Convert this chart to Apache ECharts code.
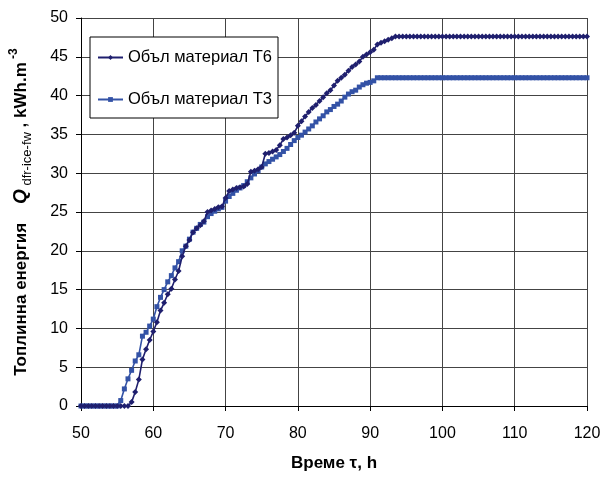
<!DOCTYPE html>
<html><head><meta charset="utf-8">
<script src="https://cdn.jsdelivr.net/npm/echarts@6/dist/echarts.min.js"></script>
<style>html,body{margin:0;padding:0;background:#fff}#c{width:613px;height:477px}</style>
</head><body><div id="c"></div>
<script>
const hours = [
50,50.5,51,51.5,52,52.5,53,53.5,54,54.5,55,55.5,56,56.5,57,57.5,58,58.5,59,59.5,
60,60.5,61,61.5,62,62.5,63,63.5,64,64.5,65,65.5,66,66.5,67,67.5,68,68.5,69,69.5,
70,70.5,71,71.5,72,72.5,73,73.5,74,74.5,75,75.5,76,76.5,77,77.5,78,78.5,79,79.5,
80,80.5,81,81.5,82,82.5,83,83.5,84,84.5,85,85.5,86,86.5,87,87.5,88,88.5,89,89.5,
90,90.5,91,91.5,92,92.5,93,93.5,94,94.5,95,95.5,96,96.5,97,97.5,98,98.5,99,99.5,
100,100.5,101,101.5,102,102.5,103,103.5,104,104.5,105,105.5,106,106.5,107,107.5,108,108.5,109,109.5,
110,110.5,111,111.5,112,112.5,113,113.5,114,114.5,115,115.5,116,116.5,117,117.5,118,118.5,119,119.5,
120];
const seriesNames = ['Объл материал Т6', 'Объл материал Т3'];
const energyT6 = [
0,0,0,0,0,0,0,0,0,0,0,0,0,0,
0.5,1.8,3.4,6.0,7.3,8.5,9.6,10.8,12.3,13.3,14.4,15.1,16.3,17.4,19.3,20.6,21.4,22.4,22.9,23.3,
23.8,25.0,25.2,25.4,25.6,25.7,26.8,27.7,27.9,28.1,28.2,28.3,28.6,30.2,30.3,30.5,30.8,32.5,32.6,32.8,
33.0,33.6,34.4,34.6,34.9,35.2,36.1,36.7,37.3,37.9,38.4,38.8,39.3,39.8,40.3,40.7,41.3,41.9,42.3,42.7,
43.2,43.7,44.0,44.4,45.0,45.3,45.6,45.9,46.6,46.8,47.0,47.2,47.4,47.6,
47.6,47.6,47.6,47.6,47.6,47.6,47.6,47.6,47.6,47.6,
47.6,47.6,47.6,47.6,47.6,47.6,47.6,47.6,47.6,47.6,
47.6,47.6,47.6,47.6,47.6,47.6,47.6,47.6,47.6,47.6,
47.6,47.6,47.6,47.6,47.6,47.6,47.6,47.6,47.6,47.6,
47.6,47.6,47.6,47.6,47.6,47.6,47.6,47.6,47.6,47.6,
47.6,47.6,47.6];
const energyT3 = [
0,0,0,0,0,0,0,0,0,0,0,
0.7,2.2,3.5,4.6,5.8,6.6,9.0,9.5,10.3,11.2,12.8,14.0,15.0,16.0,16.8,17.8,18.6,20.0,20.6,
21.5,22.4,22.9,23.4,23.7,24.4,24.8,25.1,25.4,25.6,26.4,27.0,27.4,27.8,28.1,28.4,28.9,29.4,29.9,30.3,
30.8,31.2,31.5,31.8,32.1,32.4,32.8,33.2,33.7,34.2,34.6,34.9,35.3,35.7,36.1,36.6,37.0,37.4,37.9,38.2,
38.6,38.9,39.3,39.8,40.2,40.5,40.7,41.1,41.4,41.6,41.7,41.9,42.3,
42.3,42.3,42.3,42.3,42.3,42.3,42.3,42.3,42.3,42.3,
42.3,42.3,42.3,42.3,42.3,42.3,42.3,42.3,42.3,42.3,
42.3,42.3,42.3,42.3,42.3,42.3,42.3,42.3,42.3,42.3,
42.3,42.3,42.3,42.3,42.3,42.3,42.3,42.3,42.3,42.3,
42.3,42.3,42.3,42.3,42.3,42.3,42.3,42.3,42.3,42.3,
42.3,42.3,42.3,42.3,42.3,42.3,42.3,42.3];
const xName = 'Време τ, h';
const yNameParts = ['Топлинна енергия    ', 'Q', ' dfr-ice-fw', ' , kWh.m', ' -3'];

const FONT = 'Arial, "Liberation Sans", sans-serif';
const pairs = ys => hours.map((h, i) => [h, ys[i]]);

const chart = echarts.init(document.getElementById('c'), null, {renderer: 'canvas'});
chart.setOption({
  animation: false,
  backgroundColor: '#fff',
  textStyle: {fontFamily: FONT},
  grid: {left: 78, top: 18, right: 26, bottom: 67, containLabel: false},
  legend: {
    orient: 'vertical', left: 90, top: 37,
    backgroundColor: '#fff', borderColor: '#000', borderWidth: 1, borderRadius: 0,
    padding: [12, 6, 10, 7], itemGap: 25, itemWidth: 25, itemHeight: 6,
    textStyle: {fontSize: 16.5, color: '#000', fontFamily: FONT},
    data: seriesNames
  },
  xAxis: {
    type: 'value', min: 50, max: 120, interval: 10,
    name: xName, nameLocation: 'middle', nameGap: 49,
    nameTextStyle: {fontSize: 17, fontWeight: 'bold', color: '#000', fontFamily: FONT},
    axisLine: {show: true, onZero: false, lineStyle: {color: '#000', width: 1}},
    axisTick: {show: true, inside: false, length: 5, lineStyle: {color: '#000'}},
    axisLabel: {fontSize: 16, color: '#000', margin: 20, fontFamily: FONT},
    splitLine: {show: true, lineStyle: {color: '#444', width: 1}}
  },
  yAxis: {
    type: 'value', min: 0, max: 50, interval: 5,
    name: '{a|' + yNameParts[0] + '}{q|' + yNameParts[1] + '}{s|' + yNameParts[2] + '}{a|' + yNameParts[3] + '}{p|' + yNameParts[4] + '}',
    nameLocation: 'middle', nameGap: 47, nameRotate: 90,
    nameTextStyle: {
      color: '#000', fontFamily: FONT,
      rich: {
        a: {fontSize: 17, fontWeight: 'bold', color: '#000', lineHeight: 26, verticalAlign: 'middle', fontFamily: FONT},
        q: {fontSize: 19, fontWeight: 'bold', fontStyle: 'italic', color: '#000', verticalAlign: 'middle', fontFamily: FONT},
        s: {fontSize: 13, color: '#000', verticalAlign: 'bottom', fontFamily: FONT},
        p: {fontSize: 12, fontWeight: 'bold', color: '#000', verticalAlign: 'top', fontFamily: FONT}
      }
    },
    axisLine: {show: true, lineStyle: {color: '#000', width: 1}},
    axisTick: {show: true, inside: false, length: 5, lineStyle: {color: '#000'}},
    axisLabel: {fontSize: 16, color: '#000', margin: 13, fontFamily: FONT},
    splitLine: {show: true, lineStyle: {color: '#444', width: 1}}
  },
  series: [
    {
      name: seriesNames[0], type: 'line', data: pairs(energyT6),
      symbol: 'diamond', symbolSize: 6, showAllSymbol: true,
      lineStyle: {color: '#1f1f6e', width: 1.6},
      itemStyle: {color: '#1f1f6e'}, z: 3
    },
    {
      name: seriesNames[1], type: 'line', data: pairs(energyT3),
      symbol: 'rect', symbolSize: 5, showAllSymbol: true,
      lineStyle: {color: '#3352a6', width: 1.6},
      itemStyle: {color: '#3352a6'}, z: 2
    }
  ]
});
</script></body></html>
